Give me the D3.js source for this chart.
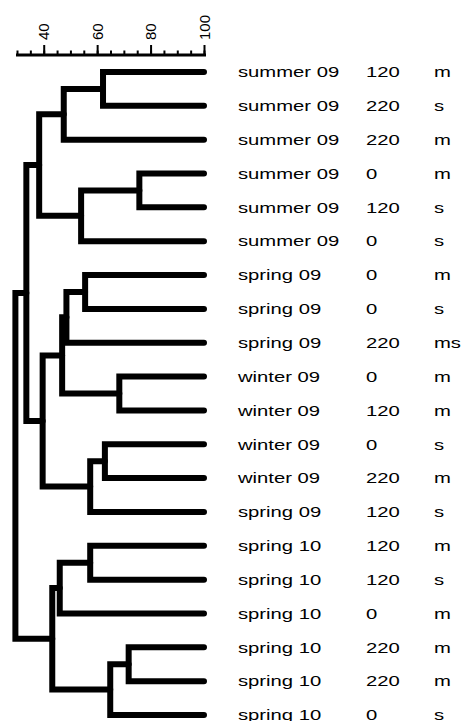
<!DOCTYPE html>
<html><head><meta charset="utf-8">
<script src="https://cdn.jsdelivr.net/npm/d3@7"></script>
<style>
body{margin:0;background:#fff}
text{font-family:"Liberation Sans",Arial,sans-serif;fill:#000}
</style>
</head><body>
<svg id="chart" width="461" height="721"></svg>
<script>
// Leaf labels (top to bottom)
const seasons = ["summer 09","summer 09","summer 09","summer 09","summer 09","summer 09",
  "spring 09","spring 09","spring 09","winter 09","winter 09","winter 09","winter 09","spring 09",
  "spring 10","spring 10","spring 10","spring 10","spring 10","spring 10"];
const doses = ["120","220","220","0","120","0","0","0","220","0","120","0","220","120",
  "120","120","0","220","220","0"];
const types = ["m","s","m","m","s","s","m","s","ms","m","m","s","m","s",
  "m","s","m","m","m","s"];

// Agglomeration steps (hclust style: negative = leaf number, positive = earlier step)
const mergeLeft   = [-1, 1, -4, 3, 2, -7, 6, -10, 7, -12, 10, 9, 5, -15, 14, -18, 16, 15, 13];
const mergeRight  = [-2, -3, -5, -6, 4, -8, -9, -11, 8, -13, -14, 11, 12, -16, -17, -19, -20, 17, 18];
const mergeHeight = [62.2, 47.5, 75.8, 54.0, 38.3, 55.5, 48.5, 68.3, 46.9, 62.9, 57.4, 39.6, 33.5,
  57.4, 46.0, 71.8, 64.9, 43.2, 29.4];

// Axis ticks
const minorTicks = [30,35,40,45,50,55,60,65,70,75,80,85,90,95,100];
const tickLabels = [40,60,80,100];
const leafHeight = 100;

// build tree
const steps = [];
const ref = v => v < 0 ? {leaf: -v - 1, h: leafHeight} : steps[v - 1];
mergeLeft.forEach((l, i) => {
  steps.push({h: mergeHeight[i], children: [ref(l), ref(mergeRight[i])]});
});
const root = d3.hierarchy(steps[steps.length - 1], d => d.children);

const svg = d3.select("#chart");
const x = d3.scaleLinear().domain([30, 100]).range([17, 204]);
const y = d3.scalePoint().domain(d3.range(seasons.length)).range([72, 715]);

root.eachAfter(n => {
  n.py = n.children ? d3.mean(n.children, c => c.py) : y(n.data.leaf);
  n.px = x(n.data.h);
});

// dendrogram links
svg.append("g")
  .selectAll("path")
  .data(root.descendants().filter(n => n.children))
  .join("path")
  .attr("fill", "none")
  .attr("stroke", "#000")
  .attr("stroke-width", 6)
  .attr("stroke-linejoin", "miter")
  .attr("stroke-linecap", "round")
  .attr("d", n => {
    const [a, b] = n.children;
    return `M${a.px},${a.py}H${n.px}V${b.py}H${b.px}`;
  });

// axis
const axisY = 54.5;
const gMinor = svg.append("g").attr("transform", `translate(0,${axisY})`)
  .call(d3.axisTop(x).tickValues(minorTicks).tickSize(4).tickSizeOuter(0).tickFormat(""));
gMinor.select(".domain").attr("stroke-width", 3).attr("stroke-linecap", "square");
gMinor.selectAll(".tick line").attr("stroke-width", 2);

const gMajor = svg.append("g").attr("transform", `translate(0,${axisY})`)
  .call(d3.axisTop(x).tickValues(tickLabels).tickSize(9.5).tickSizeOuter(0).tickFormat(d3.format("d")));
gMajor.select(".domain").remove();
gMajor.selectAll(".tick line").attr("stroke-width", 2);
gMajor.selectAll(".tick text")
  .attr("transform", "rotate(-90)")
  .attr("x", 14.5).attr("y", 0).attr("dy", "0.35em")
  .attr("text-anchor", "start")
  .style("font-family", '"Liberation Sans",Arial,sans-serif')
  .style("font-size", "15px")
  .attr("fill", "#000");

// leaf labels
const cols = [
  {vals: seasons, x: 238},
  {vals: doses, x: 366},
  {vals: types, x: 434}
];
const rows = svg.append("g").selectAll("g")
  .data(root.leaves())
  .join("g")
  .attr("transform", n => `translate(0,${n.py})`);
cols.forEach(c => {
  rows.append("text")
    .attr("transform", `translate(${c.x},0) scale(1.35,1)`)
    .attr("dy", "0.35em")
    .style("font-size", "15px")
    .text(n => c.vals[n.data.leaf]);
});
</script>
</body></html>
